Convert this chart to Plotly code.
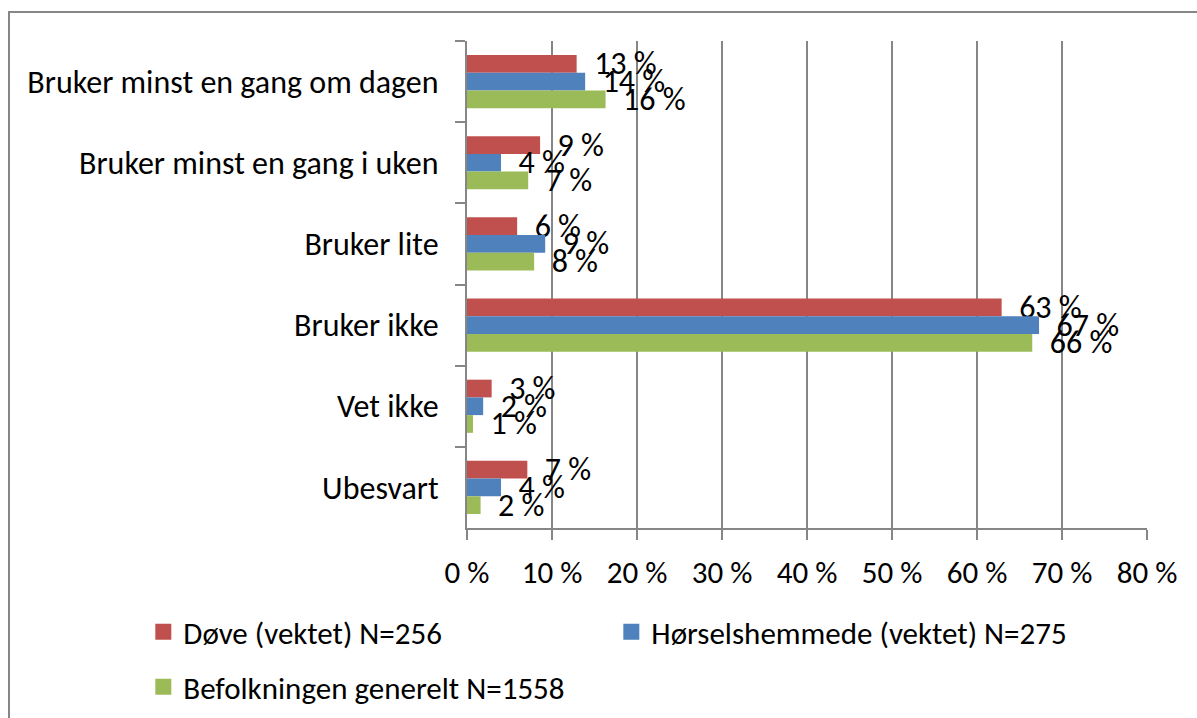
import plotly.graph_objects as go

categories = ["Bruker minst en gang om dagen", "Bruker minst en gang i uken", "Bruker lite",
              "Bruker ikke", "Vet ikke", "Ubesvart"]
series_names = ["Døve (vektet) N=256", "Hørselshemmede (vektet) N=275", "Befolkningen generelt N=1558"]
dove = [12.9, 8.6, 5.9, 62.9, 2.9, 7.1]
horsel = [13.9, 4.0, 9.2, 67.3, 1.9, 4.0]
befolk = [16.3, 7.2, 7.9, 66.5, 0.7, 1.6]
colors = ["#C0504D", "#4F81BD", "#9BBB59"]
tick_vals = [0, 10, 20, 30, 40, 50, 60, 70, 80]
tick_text = [f"{v}\u00a0%" for v in tick_vals]

FONT = "Carlito, Lato, sans-serif"
GRID = "#868686"
H_PLOT = 487
W, H = 1197, 718

fig = go.Figure()
for i, (name, vals) in enumerate(zip(series_names, [dove, horsel, befolk])):
    fig.add_trace(go.Bar(
        y=categories, x=vals, name=name, orientation="h",
        marker=dict(color=colors[i], line=dict(width=0)),
        text=[f"\u00a0\u00a0{round(v)}\u00a0%" for v in vals],
        textposition="outside", cliponaxis=False,
        textfont=dict(family=FONT, size=32, color="#000000"),
        constraintext="none", showlegend=False,
    ))
# legend entries (square swatches)
for i, name in enumerate(series_names):
    fig.add_trace(go.Scatter(
        x=[None], y=[None], mode="markers", name=name,
        marker=dict(symbol="square", size=16, color=colors[i]),
        legend="legend" if i < 2 else "legend2", hoverinfo="skip",
    ))

fig.update_layout(
    width=W, height=H,
    margin=dict(l=467, r=50, t=41, b=190, autoexpand=False),
    paper_bgcolor="white", plot_bgcolor="white",
    barmode="group", bargap=0.345, bargroupgap=0,
    font=dict(family=FONT, size=31, color="#000000"),
    showlegend=True,
    legend=dict(orientation="h", x=-0.476, xanchor="left", y=-104 / H_PLOT, yanchor="middle",
                entrywidth=423, traceorder="normal", font=dict(size=31, family=FONT),
                bgcolor="rgba(0,0,0,0)"),
    legend2=dict(orientation="h", x=-0.476, xanchor="left", y=-159 / H_PLOT, yanchor="middle",
                 traceorder="normal", font=dict(size=31, family=FONT),
                 bgcolor="rgba(0,0,0,0)"),
    xaxis=dict(range=[0, 80], tickvals=tick_vals, ticktext=tick_text,
               showgrid=True, gridcolor=GRID, gridwidth=2,
               showline=True, linecolor=GRID, linewidth=2,
               ticks="outside", ticklen=10, tickwidth=2, tickcolor=GRID,
               tickfont=dict(size=31, family=FONT), ticklabelstandoff=6,
               zeroline=False, fixedrange=True, automargin=False),
    yaxis=dict(type="category", autorange="reversed",
               showline=True, linecolor=GRID, linewidth=2,
               ticks="outside", ticklen=10, tickwidth=2, tickcolor=GRID,
               tickson="boundaries", showgrid=False, automargin=False,
               tickfont=dict(size=32, family=FONT), ticklabelstandoff=20),
)

fig.add_shape(type="rect", xref="paper", yref="paper",
              x0=(9 - 467) / 680, x1=(1300 - 467) / 680,
              y0=(528 - 800) / H_PLOT, y1=(528 - 12) / H_PLOT,
              line=dict(color=GRID, width=2), fillcolor="rgba(0,0,0,0)", layer="below")

fig.write_html("out.html", config={"displayModeBar": False},
               post_script="document.body.style.margin='0';")
